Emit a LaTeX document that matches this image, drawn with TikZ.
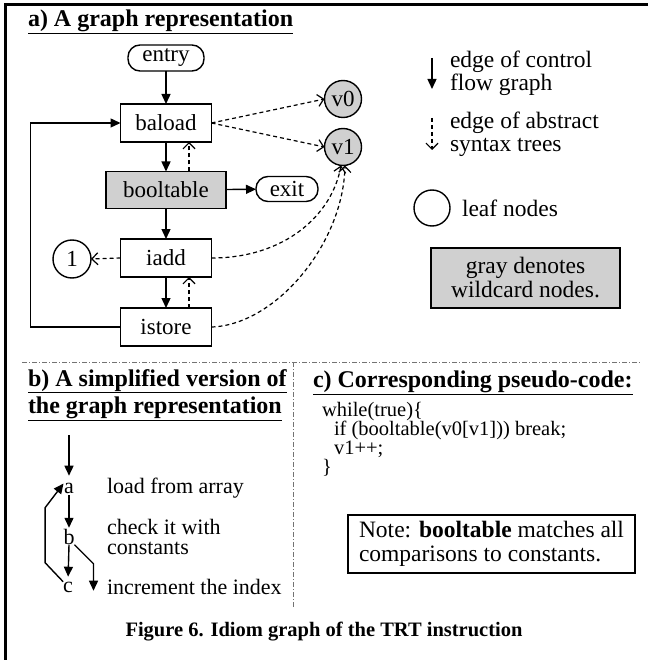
\documentclass[tikz,border=0pt]{standalone}
\usepackage{fontspec}
\setmainfont{Liberation Serif}
\usetikzlibrary{arrows.meta}
\definecolor{wildgray}{RGB}{208,208,208}
\begin{document}
\lineskiplimit=-100pt
\begin{tikzpicture}[x=1pt,y=-1pt,
  every node/.style={inner sep=0pt, outer sep=0pt},
  lbl/.style={font=\fontsize{23}{23}\selectfont},
  opbox/.style={draw, line width=1.4pt, minimum width=91pt, minimum height=38pt, lbl},
  wild/.style={opbox, fill=wildgray},
  term/.style={draw, rounded corners=12pt, line width=1.4pt, minimum height=26pt, lbl},
  leaf/.style={draw, circle, line width=1.4pt, minimum size=37pt, lbl},
  cf/.style={line width=1.4pt, -{Triangle[length=10pt,width=9pt]}},
  ast/.style={line width=1.2pt, dash pattern=on 4pt off 3pt,
    -{Straight Barb[length=6pt,width=12pt,line width=1.2pt]}},
  sect/.style={font=\fontsize{24}{27}\selectfont\bfseries, anchor=base west},
  txt/.style={font=\fontsize{23.5}{23}\selectfont, align=left, anchor=west},
  small/.style={font=\fontsize{22}{20}\selectfont},
  divider/.style={line width=0.8pt, black!55, dash pattern=on 5pt off 2pt on 1pt off 2pt},
]
\useasboundingbox (0,0) rectangle (648,660);

% outer frame (top and left edges)
\draw[line width=3pt] (648,5) -- (5.5,5) -- (5.5,660);

% ---------- a) graph representation ----------
\node[sect] (ta) at (28,27) {\underline{a) A graph representation}};

\node[term, minimum width=76pt] (entry) at (166,58) {entry};
\node[opbox] (baload) at (166,123) {baload};
\node[wild, minimum width=120pt, minimum height=37pt] (booltable) at (166,190) {booltable};
\node[term, minimum width=62pt, minimum height=25pt] (exit) at (287,189) {exit};
\node[opbox] (iadd) at (166,258) {iadd};
\node[opbox] (istore) at (166,327) {istore};
\node[leaf, minimum size=38pt] (one) at (72,259) {1};
\node[leaf, fill=wildgray] (v0) at (343,99) {v0};
\node[leaf, fill=wildgray] (v1) at (343,147) {v1};

% control flow edges
\draw[cf] (entry) -- (baload);
\draw[cf] (baload) -- (booltable);
\draw[cf] (booltable) -- (iadd);
\draw[cf] (iadd) -- (istore);
\draw[cf] (booltable) -- (exit);
\draw[cf] (istore.west) -- ++(-90,0) |- (baload.west);

% abstract syntax tree edges
\draw[ast] ([xshift=23pt]booltable.north) -- ([xshift=23pt]baload.south);
\draw[ast] ([xshift=23pt]istore.north) -- ([xshift=23pt]iadd.south);
\draw[ast] (baload.east) -- (v0.west);
\draw[ast] (baload.east) -- (v1.west);
\draw[ast] (iadd.west) -- (one.east);
\draw[ast] (iadd.east) .. controls (285,258) and (332,215) .. ([xshift=-2pt]v1.south);
\draw[ast] (istore.east) .. controls (275,325) and (343,245) .. ([xshift=2pt]v1.south);

% legend
\coordinate (cfA) at (432,58);
\coordinate (cfB) at (432,89);
\draw[cf] (cfA) -- (cfB);
\node[txt] (cfT) at (450,73) {edge of control\\flow graph};
\coordinate (astA) at (432,118);
\coordinate (astB) at (432,150);
\draw[ast] (astA) -- (astB);
\node[txt] (astT) at (450,134) {edge of abstract\\syntax trees};
\node[leaf, minimum size=36pt] (leafL) at (432,208) {};
\node[txt] (leafT) at (462,208) {leaf nodes};
\node[draw, line width=1.4pt, fill=wildgray, minimum width=189pt, minimum height=60pt,
      font=\fontsize{23.5}{24}\selectfont, align=center] (wildL) at (525.5,278)
      {gray denotes\\wildcard nodes.};

% section dividers
\draw[divider] (22,362) -- (640,362);
\draw[divider] (293,362) -- (293,608);

% ---------- b) simplified graph ----------
\node[sect] (tb1) at (28,386) {\underline{b) A simplified version of}};
\node[sect] (tb2) at (28,413) {\underline{the graph representation}};

\node[small] (nda) at (69,488) {a};
\node[small] (ndb) at (69,537) {b};
\node[small] (ndc) at (68,587) {c};
\coordinate (entb) at (69,435);
\draw[cf, shorten >=7pt] (entb) -- (nda.north);
\draw[cf, shorten <=2pt, shorten >=1.5pt] (nda.south) -- (ndb.north);
\draw[cf, shorten >=5pt] (ndb.south) -- (ndc.north);
\draw[cf] (ndb.south east) -- ++(19,19) -- ++(0,27);
\draw[cf, shorten >=1pt] (ndc.north west) -- ++(-18,-19) -- ++(0,-55) -- (nda.north west);

\node[small, anchor=west] (la) at (107,488) {load from array};
\node[small, anchor=west, align=left] (lb) at (107,537) {check it with\\constants};
\node[small, anchor=west] (lc) at (107,587) {increment the index};

% ---------- c) pseudo-code ----------
\node[sect] (tc) at (313,387) {\underline{c) Corresponding pseudo-code:}};
\node[font=\fontsize{20.5}{19}\selectfont, align=left, anchor=north west] (code) at (322,402)
  {while(true)\{\\
   \hspace*{12pt}if (booltable(v0[v1])) break;\\
   \hspace*{12pt}v1++;\\
   \}};
\node[draw, line width=1.2pt, minimum width=287pt, minimum height=58pt,
      font=\fontsize{23.5}{24.5}\selectfont, align=left] (note) at (491.5,544)
  {Note: \textbf{booltable} matches all\\comparisons to constants.};

% caption
\node[font=\fontsize{20.5}{22}\selectfont\bfseries] (cap) at (324,632)
  {Figure 6. Idiom graph of the TRT instruction};
\end{tikzpicture}
\end{document}
